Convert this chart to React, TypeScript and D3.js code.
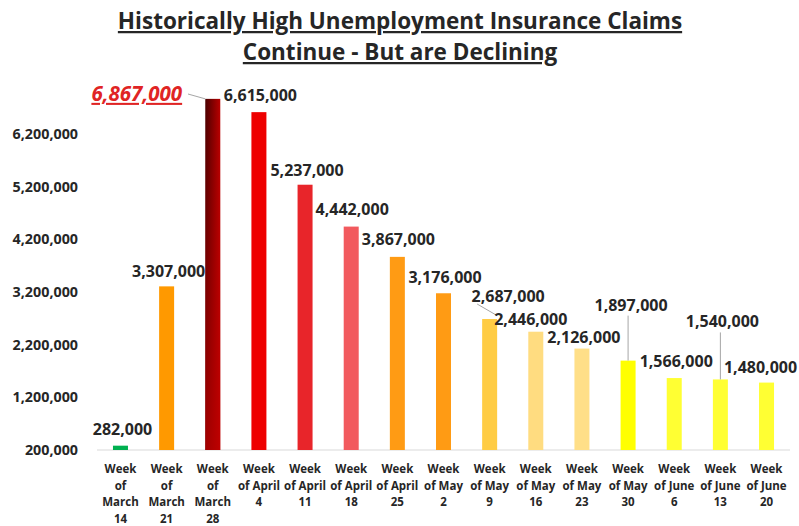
import * as d3 from "d3";

const CATEGORIES = [
  "Week\nof\nMarch\n14",
  "Week\nof\nMarch\n21",
  "Week\nof\nMarch\n28",
  "Week\nof April\n4",
  "Week\nof April\n11",
  "Week\nof April\n18",
  "Week\nof April\n25",
  "Week\nof May\n2",
  "Week\nof May\n9",
  "Week\nof May\n16",
  "Week\nof May\n23",
  "Week\nof May\n30",
  "Week\nof June\n6",
  "Week\nof June\n13",
  "Week\nof June\n20",
];

const CLAIMS = [
  282000, 3307000, 6867000, 6615000, 5237000, 4442000, 3867000, 3176000,
  2687000, 2446000, 2126000, 1897000, 1566000, 1540000, 1480000,
];

const Y_TICKS = [200000, 1200000, 2200000, 3200000, 4200000, 5200000, 6200000];

const TITLE = ["Historically High Unemployment Insurance Claims", "Continue - But are Declining"];

// styling, kept apart from the data
const COLORS = [
  "#00b050", "#ff9900", "url(#peak)", "#ee0000", "#e8252a", "#f25a5e", "#ff9b14",
  "#ff9b14", "#ffcc44", "#ffdc80", "#ffdf88", "#ffff00", "#ffff33", "#ffff33", "#ffff33",
];
// label nudges: [dx from bar centre, gap from bar top to baseline]
const LABEL_NUDGE: [number, number][] = [
  [2, 11], [2, 9], [-76, -2], [1.5, 11], [2, 9], [1, 11.5], [1, 12], [1.5, 10],
  [18.5, 17], [-5, 7], [2, 5.5], [3, 50], [2, 11], [2, 52], [-6, 10],
];

const W = 799;
const H = 526;
const FONT = "'Open Sans', 'Liberation Sans', sans-serif";
const TEXT = "#262626";

export default function App() {
  const x = d3
    .scaleBand<string>()
    .domain(CATEGORIES)
    .range([97.4, 789.6])
    .paddingInner(0.675)
    .paddingOuter(0.3375);
  const y = d3.scaleLinear().domain([200000, 6200000]).range([450, 134]);
  const fmt = d3.format(",");
  const base = y(200000);

  return (
    <div style={{ position: "absolute", left: 0, top: 0, width: W, height: H, background: "#fff" }}>
      <svg width={W} height={H} fontFamily={FONT}>
        <defs>
          <linearGradient id="peak" x1="0" y1="0" x2="1" y2="0">
            <stop offset="0%" stopColor="#4a0000" />
            <stop offset="100%" stopColor="#b80000" />
          </linearGradient>
          <linearGradient id="peakShade" x1="0" y1="0" x2="0" y2="1">
            <stop offset="0%" stopColor="#c00000" stopOpacity={0} />
            <stop offset="100%" stopColor="#c00000" stopOpacity={0.75} />
          </linearGradient>
        </defs>

        {TITLE.map((t, i) => (
          <text
            key={t}
            x={400}
            y={29 + i * 31}
            textAnchor="middle"
            fontSize={22.5}
            fontWeight={700}
            fill={TEXT}
            textDecoration="underline"
          >
            {t}
          </text>
        ))}

        {Y_TICKS.map((t) => (
          <text
            key={t}
            x={78}
            y={y(t)}
            dy="0.35em"
            textAnchor="end"
            fontSize={14.3}
            fontWeight={700}
            fill={TEXT}
          >
            {fmt(t)}
          </text>
        ))}

        <line x1={97} x2={790} y1={base} y2={base} stroke="#d9d9d9" strokeWidth={1} />

        {CATEGORIES.map((c, i) => {
          const x0 = x(c)!;
          const cx = x0 + x.bandwidth() / 2;
          const v = CLAIMS[i];
          const top = y(v);
          const [dx, gap] = LABEL_NUDGE[i];
          const peak = i === 2;
          return (
            <g key={c}>
              <rect x={x0} y={top} width={x.bandwidth()} height={base - top} fill={COLORS[i]} />
              {peak ? (
                <>
                  <rect x={x0} y={top} width={x.bandwidth()} height={base - top} fill="url(#peakShade)" />
                  <line x1={188} y1={94} x2={x0} y2={top} stroke="#a6a6a6" strokeWidth={1} />
                  <text
                    x={cx + dx}
                    y={top - gap}
                    textAnchor="middle"
                    fontSize={20.5}
                    fontWeight={700}
                    fontStyle="italic"
                    fill="#e02424"
                    textDecoration="underline"
                  >
                    {fmt(v)}
                  </text>
                </>
              ) : (
                <>
                  {gap > 30 && (
                    <line x1={cx} x2={cx} y1={top - gap + 5} y2={top} stroke="#a6a6a6" strokeWidth={1} />
                  )}
                  {i === 8 && (
                    <line x1={x0 + x.bandwidth() - 1} y1={top - 4} x2={cx + dx - 31} y2={top - gap + 2} stroke="#a6a6a6" strokeWidth={1} />
                  )}
                  <text
                    x={cx + dx}
                    y={top - gap}
                    textAnchor="middle"
                    fontSize={16}
                    fontWeight={700}
                    fill={TEXT}
                  >
                    {fmt(v)}
                  </text>
                </>
              )}
              <text textAnchor="middle" fontSize={11.5} fontWeight={700} fill={TEXT}>
                {c.split("\n").map((line, j) => (
                  <tspan key={j} x={cx} y={473 + j * 16.7}>
                    {line}
                  </tspan>
                ))}
              </text>
            </g>
          );
        })}
      </svg>
    </div>
  );
}
